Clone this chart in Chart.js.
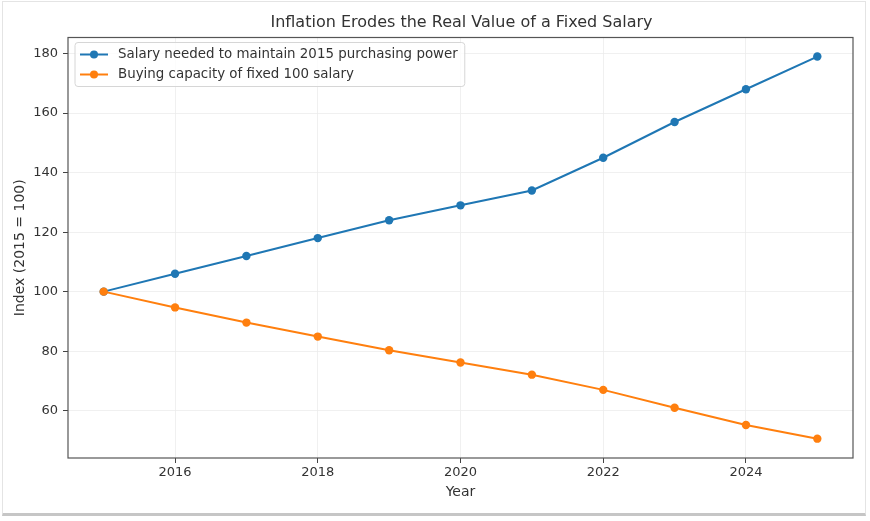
<!DOCTYPE html>
<html>
<head>
<meta charset="utf-8">
<script src="https://cdn.jsdelivr.net/npm/chart.js@4.4.1/dist/chart.umd.min.js"></script>
<style>
    html, body { margin: 0; padding: 0; background: #fff; }
    #wrap { position: relative; width: 870px; height: 521px; }
    #frame {
        position: absolute; left: 2px; top: 1px; width: 862px; height: 511px;
        border: 1px solid #e4e4e4; border-bottom: 3px solid #c6c6c6;
        pointer-events: none;
    }
</style>
</head>
<body>
<div id="wrap">
    <canvas id="chart" width="870" height="521"></canvas>
    <div id="frame"></div>
</div>
<script>
// 数据
const years = [2015, 2016, 2017, 2018, 2019, 2020, 2021, 2022, 2023, 2024, 2025];
const salaryNeeded = [100, 106, 112, 118, 124, 129, 134, 145, 157, 168, 179];
const buyingCapacity = [100, 94.7, 89.6, 84.9, 80.3, 76.2, 72.1, 67.0, 61.0, 55.2, 50.6];
const xTicks = [2016, 2018, 2020, 2022, 2024];
const yTicks = [60, 80, 100, 120, 140, 160, 180];
const seriesLabels = [
    'Salary needed to maintain 2015 purchasing power',
    'Buying capacity of fixed 100 salary'
];
const chartTitle = 'Inflation Erodes the Real Value of a Fixed Salary';

const FONT = 'DejaVu Sans';
const TEXT = '#333333';

// 标题居中于绘图区上方
const titlePlugin = {
    id: 'axTitle',
    afterDraw(chart) {
        const { ctx, chartArea: a } = chart;
        ctx.save();
        ctx.font = `16px "${FONT}"`;
        ctx.fillStyle = TEXT;
        ctx.textAlign = 'center';
        ctx.textBaseline = 'middle';
        ctx.fillText(chartTitle, (a.left + a.right) / 2 + 1, 23);
        ctx.restore();
    }
};

// 坐标轴外框 (matplotlib 风格)
const boxPlugin = {
    id: 'box',
    afterDatasetsDraw(chart) {
        const { ctx, chartArea: a } = chart;
        ctx.save();
        ctx.strokeStyle = '#555555';
        ctx.lineWidth = 1.2;
        ctx.strokeRect(a.left, a.top, a.right - a.left, a.bottom - a.top);
        ctx.restore();
    }
};

// 图例画在绘图区内部左上角
const innerLegend = {
    id: 'innerLegend',
    afterDraw(chart) {
        const { ctx, chartArea: a } = chart;
        const x0 = a.left + 7, y0 = a.top + 5;
        const rowH = 20;
        ctx.save();
        ctx.font = `13.4px "${FONT}"`;
        let maxW = 0;
        chart.data.datasets.forEach(ds => { maxW = Math.max(maxW, ctx.measureText(ds.label).width); });
        const w = 43 + maxW + 7, h = rowH * 2 + 4;
        ctx.fillStyle = 'rgba(255,255,255,0.8)';
        ctx.strokeStyle = '#d6d6d6';
        ctx.lineWidth = 1;
        ctx.beginPath();
        ctx.roundRect(x0, y0, w, h, 3);
        ctx.fill();
        ctx.stroke();
        chart.data.datasets.forEach((ds, i) => {
            const cy = y0 + 12 + i * rowH;
            ctx.strokeStyle = ds.borderColor;
            ctx.lineWidth = 2;
            ctx.beginPath();
            ctx.moveTo(x0 + 5, cy);
            ctx.lineTo(x0 + 33, cy);
            ctx.stroke();
            ctx.fillStyle = ds.pointBackgroundColor;
            ctx.beginPath();
            ctx.arc(x0 + 19, cy, 4, 0, Math.PI * 2);
            ctx.fill();
            ctx.fillStyle = TEXT;
            ctx.textBaseline = 'middle';
            ctx.fillText(ds.label, x0 + 43, cy + 0.5);
        });
        ctx.restore();
    }
};

const ctx = document.getElementById('chart').getContext('2d');
new Chart(ctx, {
    type: 'line',
    data: {
        datasets: [
            {
                label: seriesLabels[0],
                data: years.map((y, i) => ({ x: y, y: salaryNeeded[i] })),
                borderColor: '#1f77b4',
                backgroundColor: '#1f77b4',
                pointBackgroundColor: '#1f77b4',
                pointBorderWidth: 0,
                pointRadius: 4.2,
                borderWidth: 2,
                tension: 0,
                order: 1
            },
            {
                label: seriesLabels[1],
                data: years.map((y, i) => ({ x: y, y: buyingCapacity[i] })),
                borderColor: '#ff7f0e',
                backgroundColor: '#ff7f0e',
                pointBackgroundColor: '#ff7f0e',
                pointBorderWidth: 0,
                pointRadius: 4.2,
                borderWidth: 2,
                tension: 0,
                order: 0
            }
        ]
    },
    options: {
        responsive: false,
        animation: false,
        devicePixelRatio: 1,
        layout: { padding: { left: 0, right: 17, top: 37.5, bottom: 0 } },
        plugins: {
            legend: { display: false },
            tooltip: { enabled: false },
            title: { display: false }
        },
        scales: {
            x: {
                type: 'linear',
                min: 2014.5,
                max: 2025.5,
                afterBuildTicks: s => { s.ticks = xTicks.map(v => ({ value: v })); },
                afterFit: s => { s.height = 63; },
                ticks: {
                    color: TEXT,
                    font: { family: FONT, size: 13 },
                    padding: 2,
                    maxRotation: 0,
                    callback: v => String(v)
                },
                grid: { color: '#ececec', lineWidth: 0.8, tickColor: '#444', tickLength: 5, tickWidth: 1 },
                border: { display: false },
                title: {
                    display: true,
                    text: 'Year',
                    color: TEXT,
                    font: { family: FONT, size: 14 },
                    padding: { top: 0, bottom: 20 }
                }
            },
            y: {
                min: 44.1,
                max: 185.4,
                afterBuildTicks: s => { s.ticks = yTicks.map(v => ({ value: v })); },
                afterFit: s => { s.width = 68; },
                ticks: {
                    color: TEXT,
                    font: { family: FONT, size: 13 },
                    padding: 5,
                    callback: v => String(v)
                },
                grid: { color: '#ececec', lineWidth: 0.8, tickColor: '#444', tickLength: 5, tickWidth: 1 },
                border: { display: false },
                title: {
                    display: true,
                    text: 'Index (2015 = 100)',
                    color: TEXT,
                    font: { family: FONT, size: 14 },
                    padding: { top: 12, bottom: 0 }
                }
            }
        }
    },
    plugins: [boxPlugin, innerLegend, titlePlugin]
});
</script>
</body>
</html>
